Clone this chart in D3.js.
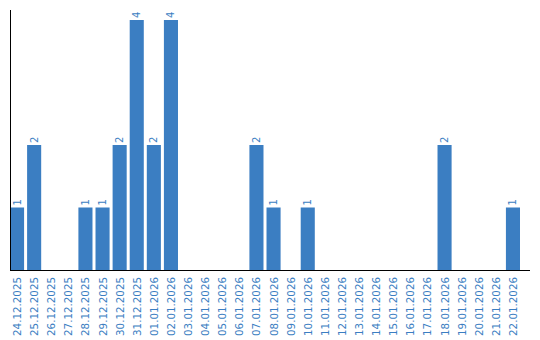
<!DOCTYPE html>
<html>
<head>
<meta charset="utf-8">
<script src="https://cdn.jsdelivr.net/npm/d3@7"></script>
<style>
  body { margin: 0; background: #fff; }
  svg { display: block; }
</style>
</head>
<body>
<svg></svg>
<script>
const dates = [
  "24.12.2025", "25.12.2025", "26.12.2025", "27.12.2025", "28.12.2025",
  "29.12.2025", "30.12.2025", "31.12.2025", "01.01.2026", "02.01.2026",
  "03.01.2026", "04.01.2026", "05.01.2026", "06.01.2026", "07.01.2026",
  "08.01.2026", "09.01.2026", "10.01.2026", "11.01.2026", "12.01.2026",
  "13.01.2026", "14.01.2026", "15.01.2026", "16.01.2026", "17.01.2026",
  "18.01.2026", "19.01.2026", "20.01.2026", "21.01.2026", "22.01.2026"
];
const counts = [1, 2, 0, 0, 1, 1, 2, 4, 2, 4, 0, 0, 0, 0, 2, 1, 0, 1, 0, 0, 0, 0, 0, 0, 0, 2, 0, 0, 0, 1];

let width = 540;
let height = 340;
let left = 10;
let baseY = 270;
let barColor = "#3b7ec2";

let svg = d3.select("svg").attr("width", width).attr("height", height);

let xScale = d3.scaleBand()
  .domain(dates)
  .range([left, left + 17 * dates.length])
  .paddingInner(3 / 17)
  .paddingOuter(0)
  .align(0);

let yScale = d3.scaleLinear().domain([0, 4]).range([baseY, 20]);

const data = dates.map((d, i) => ({ date: d, value: counts[i] }));

// bars
svg.selectAll("rect.bar")
  .data(data.filter((d) => d.value > 0))
  .enter()
  .append("rect")
  .attr("class", "bar")
  .attr("x", (d) => xScale(d.date))
  .attr("y", (d) => yScale(d.value))
  .attr("width", xScale.bandwidth())
  .attr("height", (d) => baseY - yScale(d.value))
  .attr("fill", barColor);

// value labels
svg.selectAll("text.val")
  .data(data.filter((d) => d.value > 0))
  .enter()
  .append("text")
  .attr("class", "val")
  .attr("transform", (d) =>
    `translate(${xScale(d.date) + xScale.bandwidth() / 2 + 3.5}, ${yScale(d.value) - 2}) rotate(-90)`)
  .attr("font-family", "DejaVu Sans, sans-serif")
  .attr("font-size", 10)
  .attr("fill", barColor)
  .text((d) => d.value);

// axes
svg.append("line")
  .attr("x1", left + 0.5).attr("x2", left + 0.5)
  .attr("y1", 10).attr("y2", baseY)
  .attr("stroke", "#000");

svg.append("line")
  .attr("x1", left).attr("x2", 530)
  .attr("y1", baseY + 0.5).attr("y2", baseY + 0.5)
  .attr("stroke", "#000");

// date labels
svg.selectAll("text.date")
  .data(dates)
  .enter()
  .append("text")
  .attr("class", "date")
  .attr("transform", (d) =>
    `translate(${xScale(d) + xScale.bandwidth() / 2 + 4}, ${baseY + 7}) rotate(-90)`)
  .attr("text-anchor", "end")
  .attr("font-family", "DejaVu Sans, sans-serif")
  .attr("font-size", 10.3)
  .attr("fill", barColor)
  .text((d) => d);
</script>
</body>
</html>
